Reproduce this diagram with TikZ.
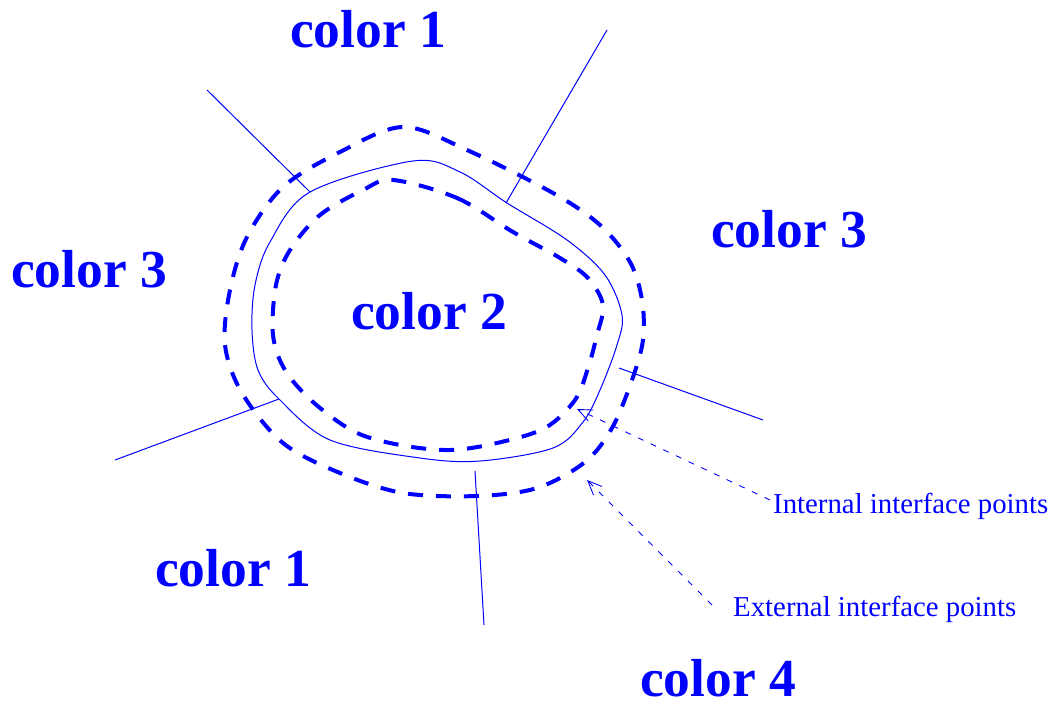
\documentclass[tikz,border=0pt]{standalone}
\usepackage{fontspec}
\setmainfont{Liberation Serif}
\usetikzlibrary{arrows.meta}
\definecolor{pblue}{RGB}{0,0,255}
\begin{document}
\begin{tikzpicture}[x=1pt,y=-1pt,
  big/.style={font=\fontsize{53.5}{60}\selectfont\bfseries, text=pblue, inner sep=0pt, anchor=base west},
  small/.style={font=\fontsize{28.8}{33}\selectfont, text=pblue, inner sep=0pt, anchor=base west},
  thin/.style={draw=pblue, line width=1pt},
  thickdash/.style={draw=pblue, line width=4pt, dash pattern=on 15pt off 13pt},
  pointer/.style={draw=pblue, line width=0.9pt, dash pattern=on 6pt off 8pt, -{Straight Barb[length=14pt,width=12pt]}}
]
\useasboundingbox (0,0) rectangle (1051,701);

% region border lines
\coordinate (tlA) at (207,90);  \coordinate (tlB) at (310,192);
\coordinate (trA) at (607,30);  \coordinate (trB) at (506,203);
\coordinate (lA) at (115,460);  \coordinate (lB) at (279,399);
\coordinate (rA) at (763,420);  \coordinate (rB) at (619,368);
\coordinate (bA) at (484,625);  \coordinate (bB) at (475,471);
\draw[thin] (tlA) -- (tlB);
\draw[thin] (trA) -- (trB);
\draw[thin] (lA) -- (lB);
\draw[thin] (rA) -- (rB);
\draw[thin] (bA) -- (bB);

% interface (solid)
\draw[thin] plot[smooth cycle, tension=0.55] coordinates {
 (310,192) (413,161) (460,172) (507,203) (567,240) (605,275) (622,315) (617,345)
 (600,390) (583,422) (553,448) (480,461) (420,458) (330,440) (279,399) (258,370)
 (252,330) (255,285) (270,242)};

% outer dashed
\draw[thickdash] plot[smooth cycle, tension=0.55] coordinates {
 (403,127) (467,150) (553,193) (600,225) (630,262) (642,300) (643,340) (632,380)
 (612,428) (585,462) (537,488) (477,496) (403,493) (340,473) (283,443) (242,393)
 (225,345) (230,290) (247,237) (283,187) (340,152)};

% inner dashed
\draw[thickdash] plot[smooth cycle, tension=0.55] coordinates {
 (393,180) (457,198) (513,232) (560,258) (588,278) (603,305) (597,335) (588,368)
 (575,400) (545,428) (497,443) (450,450) (400,445) (355,432) (313,402) (285,370)
 (273,335) (276,285) (290,250) (320,215) (363,190)};

% labels
\node[big] (c1t) at (290,48) {color 1};
\node[big] (c3l) at (11,287) {color 3};
\node[big] (c2) at (351,329) {color 2};
\node[big] (c3r) at (711,247) {color 3};
\node[big] (c1b) at (155,586) {color 1};
\node[big] (c4) at (640,696) {color 4};

\node[small] (intl) at (773,513) {Internal interface points};
\node[small] (extl) at (733,616) {External interface points};

\coordinate (intA) at (770,500); \coordinate (intB) at (577,409);
\coordinate (extA) at (712,605); \coordinate (extB) at (587,480);
\draw[pointer] (intA) -- (intB);
\draw[pointer] (extA) -- (extB);
\end{tikzpicture}
\end{document}
